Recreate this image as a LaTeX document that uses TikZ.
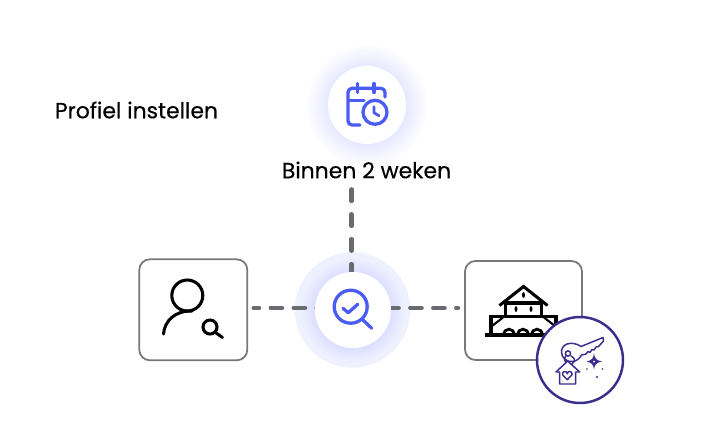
\documentclass[tikz,border=0pt]{standalone}
\usepackage{fontspec}
\setmainfont[FakeBold=0.35]{Poppins}
\usetikzlibrary{calc,backgrounds}
\definecolor{iconblue}{HTML}{4A5CF5}
\definecolor{halo}{HTML}{F0F1FF}
\definecolor{halomid}{HTML}{DCDFFF}
\definecolor{calmid}{HTML}{E6E8FF}
\definecolor{dashgrey}{HTML}{6A6B70}
\definecolor{boxgrey}{HTML}{77787C}
\definecolor{keypurple}{HTML}{3A2E8C}
\pgfdeclareradialshading{calglow}{\pgfpointorigin}{color(0bp)=(calmid); color(15bp)=(calmid); color(24bp)=(white); color(50bp)=(white)}
\pgfdeclareradialshading{searchglow}{\pgfpointorigin}{color(0bp)=(halomid); color(16.5bp)=(halomid); color(23bp)=(halo); color(50bp)=(halo)}
\tikzset{
  iconline/.style={iconblue,line width=2.8pt,line cap=round,line join=round},
  userline/.style={black,line width=2.6pt,line cap=round},
  houseline/.style={black,line width=2.6pt,line cap=butt,line join=miter},
  keyline/.style={keypurple,line width=1.25pt,line join=round,line cap=round},
  dashline/.style={dashgrey,line width=3.6pt,line cap=round,dash pattern=on 10pt off 11.25pt},
  sidedash/.style={dashline,dash pattern=on 9.8pt off 9.8pt},
  iconbox/.style={draw=boxgrey,line width=1.5pt,fill=white,rounded corners=9pt,inner sep=0pt},
  whitedisc/.style={circle,fill=white,inner sep=0pt},
  label/.style={inner sep=0pt,black,font=\fontsize{18.7}{22}\selectfont}
}
\begin{document}
\begin{tikzpicture}[x=0.03cm,y=-0.03cm]
    \useasboundingbox (0,0) rectangle (720,437);
    % nodes
    \node [iconbox,minimum width=108*0.03cm,minimum height=101*0.03cm] (user) at (193.3,309.8) {};
    \node [iconbox,minimum width=117*0.03cm,minimum height=99*0.03cm] (house) at (523.5,310.5) {};
    \node [whitedisc,minimum size=78*0.03cm] (calendar) at (367,105) {};
    \node [whitedisc,minimum size=76*0.03cm] (search) at (353,310) {};
    \node [label] (title) at (136.5,110) {Profiel instellen};
    \node [label] (when) at (366.5,170) {Binnen 2 weken};
    \coordinate (whenfoot) at (351.5,189.3);
    \coordinate (dashrow) at (352,307.8);
    \begin{scope}[on background layer]
      \fill [white] (0,0) rectangle (720,437);
      \shade [shading=calglow] (367,105) circle (64);
      \shade [shading=searchglow] (352.5,310) circle (57.7);
      % connectors
      \draw [dashline] (whenfoot) -- (whenfoot |- search.center);
      \draw [sidedash,dash phase=5.1pt] ($(user.east |- dashrow)+(5.5,0)$) -- (dashrow);
      \draw [sidedash,dash phase=3.4pt] (search.east |- dashrow) -- ($(house.west |- dashrow)+(-6,0)$);
    \end{scope}
    % calendar icon
    \draw [iconline] (349,100.7) -- (364,100.7);
    \draw [iconline] (360,125) -- (352,125) arc (90:180:4) -- (348,92.3) arc (180:270:4) -- (381,88.3) arc (-90:0:4) -- (385,97);
    \draw [iconline] (357.3,83.5) -- (357.3,92.5);
    \draw [iconline] (374,83.5) -- (374,92.5);
    \draw [iconline] (375,112.3) circle (12);
    \draw [iconblue,line width=2.4pt,line cap=round,line join=round] (374,106.7) -- (374,112.7) -- (379,115.7);
    % search icon
    \draw [iconline] (350.7,306.7) circle (16.5);
    \draw [iconline] (363,320) -- (371.7,328.3);
    \draw [iconline] (343,308.3) -- (348.3,312.7) -- (357.7,304.3);
    % user icon
    \draw [userline] (187.3,295.5) circle (15.5);
    \draw [userline] (163.5,334) .. controls (164.5,321) and (175,310.5) .. (192,311);
    \draw [userline] (210,327) circle (7);
    \draw [userline] (215.5,332.5) -- (222.5,337.5);
    % house icon
    \draw [houseline] (499.5,305.5) -- (523.5,286.5) -- (547.5,305.5);
    \draw [houseline] (505,303) -- (542,303);
    \draw [houseline] (505.5,302) -- (505.5,316);
    \draw [houseline] (541.5,302) -- (541.5,316);
    \draw [houseline] (490,316.5) -- (557,316.5);
    \draw [houseline] (491,315) -- (491,335);
    \draw [houseline] (556,315) -- (556,335);
    \draw [line width=1.8pt] (492,326) -- (503,317.5);
    \draw [line width=1.8pt] (555,326) -- (544,317.5);
    \draw [houseline,line width=3pt] (485,334.8) -- (558,334.8);
    \foreach \ax in {509,523,537} {
      \draw [houseline,line width=2.4pt] (\ax-5.6,334.8) arc (180:360:5.6);
    }
    \foreach \wx/\wy in {523.5/295,516/309,531/309} {
      \fill [black] (\wx,\wy) ellipse (1.5 and 2.9);
    }
    % key badge
    \node [circle,draw=keypurple,line width=2.1pt,fill=white,inner sep=0pt,minimum size=86*0.03cm] (keybadge) at (580,360) {};
    \draw [keyline] (561.5,352) .. controls (561.5,358) and (567,362.5) .. (573,361.5) .. controls (577,361) and (580,358) .. (581.5,355)
      -- (586,354) -- (588,351.5) -- (590,352.5) -- (592,349.5) -- (594,350) -- (596,347) -- (598.5,346.5) -- (603.5,341) -- (603,337.5) -- (581,346.5)
      .. controls (577,343.5) and (571,342.5) .. (567,344) .. controls (563,345.5) and (561.5,349) .. (561.5,352);
    \draw [keyline] (568,353.5) circle (2.6);
    \draw [keyline] (566,355.5) .. controls (564,358) and (564,360) .. (565.5,362);
    \draw [keyline] (571,356) .. controls (575,358) and (576,361) .. (572,364);
    \draw [keyline,fill=white] (556,372) -- (567.7,361) -- (579.7,372) -- (575.7,372) -- (575.7,384) -- (559.7,384) -- (559.7,372) -- cycle;
    \draw [keyline] (567.3,379.7) -- (562.9,375.2) arc (145:360:2.4) arc (180:395:2.4) -- cycle;
    \fill [keypurple] (594,353) .. controls (594.5,358) and (596,360.5) .. (602,361.5) .. controls (596,362.5) and (594.5,365) .. (594,369.5) .. controls (593.5,365) and (592,362.5) .. (586.5,361.5) .. controls (592,360.5) and (593.5,358) .. (594,353) -- cycle;
    \fill [white] (594,361.5) circle (1);
    \fill [keypurple] (587,369) circle (0.9);
    \fill [keypurple] (602.5,369) circle (0.9);
    \fill [keypurple] (597,377) circle (1.1);
\end{tikzpicture}
\end{document}
